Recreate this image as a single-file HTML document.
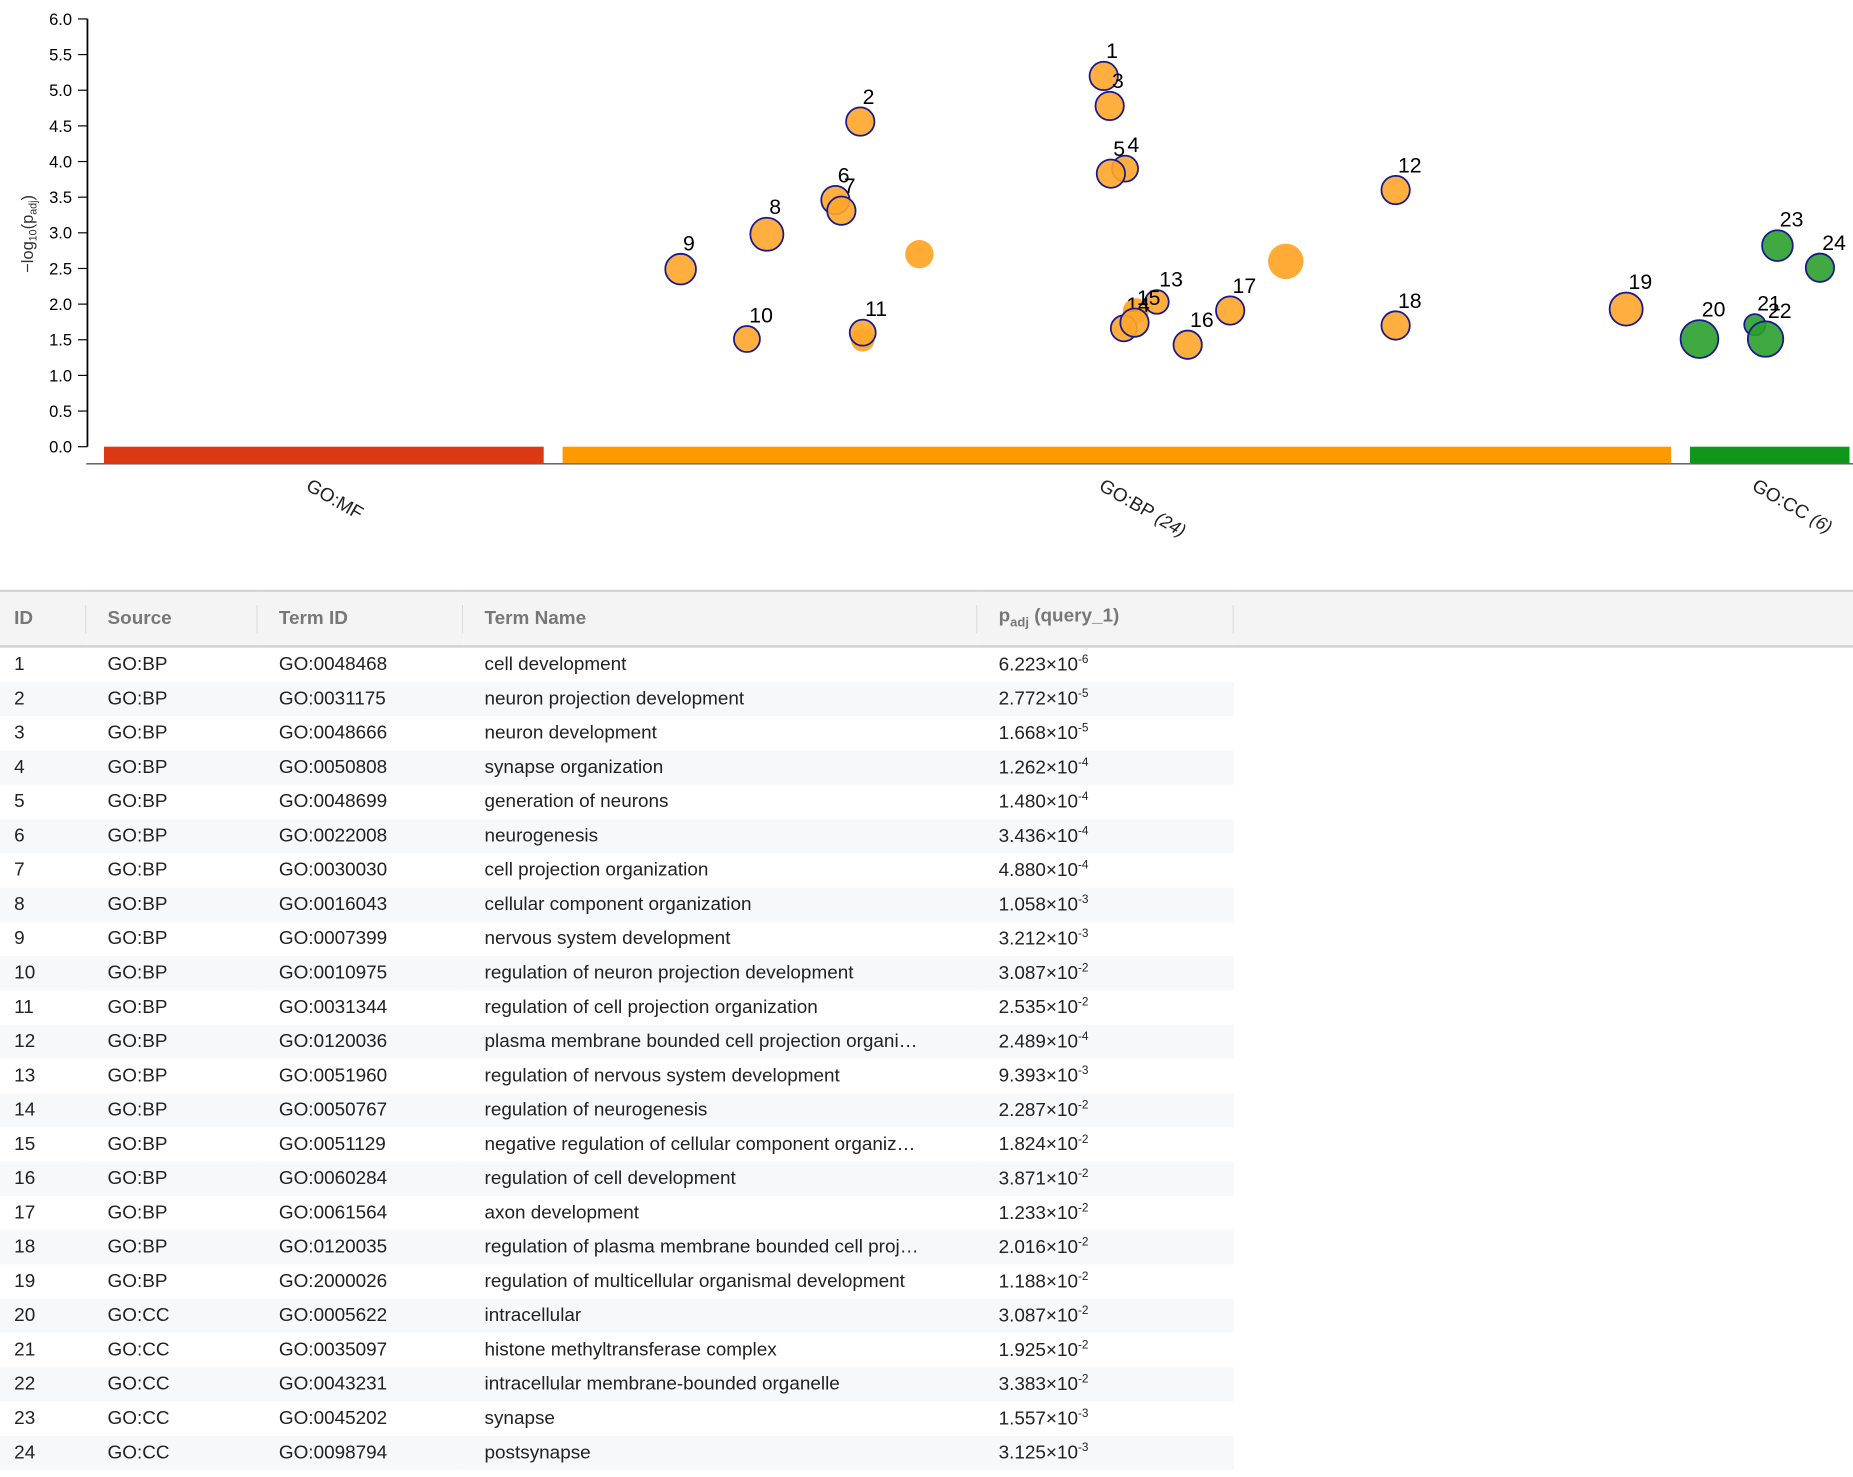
<!DOCTYPE html>
<html><head><meta charset="utf-8"><style>
html,body{margin:0;padding:0;background:#fff;width:1853px;height:1477px;overflow:hidden}
#wrap{width:1568px;height:1250px;transform:scale(1.181760);transform-origin:0 0;position:relative;font-family:"Liberation Sans",sans-serif}
svg text{font-family:"Liberation Sans",sans-serif}
table{position:absolute;left:0;top:499px;border-collapse:collapse;width:1568px;font-size:16px;color:#222}
th{background:#f4f4f4;color:#777;font-weight:bold;text-align:left;height:45px;border-top:2px solid #d4d4d4;border-bottom:2px solid #d4d4d4;padding:0;position:relative}
td{height:29px;padding:0;white-space:nowrap}
tr.alt td.c{background:#f7f8fa}
.sep{position:absolute;right:0;top:11px;height:24px;border-right:1px solid #ddd}
</style></head><body><div id="wrap">
<svg id="chart" width="1568" height="490" style="position:absolute;left:0;top:0"></svg>
<table>
<thead><tr>
<th style="width:73px;padding-left:12px;box-sizing:border-box">ID<span class="sep"></span></th>
<th style="width:145px;padding-left:18px;box-sizing:border-box">Source<span class="sep"></span></th>
<th style="width:174px;padding-left:18px;box-sizing:border-box">Term ID<span class="sep"></span></th>
<th style="width:435px;padding-left:18px;box-sizing:border-box">Term Name<span class="sep"></span></th>
<th style="width:217px;padding-left:18px;box-sizing:border-box">p<sub style="font-size:11px">adj</sub> (query_1)<span class="sep"></span></th>
<th style="background:#f4f4f4"></th>
</tr></thead><tbody id="tb"></tbody></table>
</div>
<script>
const ids=[1,2,3,4,5,6,7,8,9,10,11,12,13,14,15,16,17,18,19,20,21,22,23,24];
const sources=["GO:BP","GO:BP","GO:BP","GO:BP","GO:BP","GO:BP","GO:BP","GO:BP","GO:BP","GO:BP","GO:BP","GO:BP","GO:BP","GO:BP","GO:BP","GO:BP","GO:BP","GO:BP","GO:BP","GO:CC","GO:CC","GO:CC","GO:CC","GO:CC"];
const termIds=["GO:0048468","GO:0031175","GO:0048666","GO:0050808","GO:0048699","GO:0022008","GO:0030030","GO:0016043","GO:0007399","GO:0010975","GO:0031344","GO:0120036","GO:0051960","GO:0050767","GO:0051129","GO:0060284","GO:0061564","GO:0120035","GO:2000026","GO:0005622","GO:0035097","GO:0043231","GO:0045202","GO:0098794"];
const termNames=["cell development","neuron projection development","neuron development","synapse organization","generation of neurons","neurogenesis","cell projection organization","cellular component organization","nervous system development","regulation of neuron projection development","regulation of cell projection organization","plasma membrane bounded cell projection organi…","regulation of nervous system development","regulation of neurogenesis","negative regulation of cellular component organiz…","regulation of cell development","axon development","regulation of plasma membrane bounded cell proj…","regulation of multicellular organismal development","intracellular","histone methyltransferase complex","intracellular membrane-bounded organelle","synapse","postsynapse"];
const pMant=["6.223","2.772","1.668","1.262","1.480","3.436","4.880","1.058","3.212","3.087","2.535","2.489","9.393","2.287","1.824","3.871","1.233","2.016","1.188","3.087","1.925","3.383","1.557","3.125"];
const pExp=[-6,-5,-5,-4,-4,-4,-4,-3,-3,-2,-2,-4,-3,-2,-2,-2,-2,-2,-2,-2,-2,-2,-3,-3];
// plotted points: position along term axis (0-1000), -log10 padj, size
const ptPos=[571.6,432.4,575,583.8,575.7,418.2,421.6,379,329.7,367.6,433.8,738.5,602,583.1,589.2,619.6,643.9,738.5,870.3,912.2,943.9,950,956.8,981.1];
const ptVal=[5.2,4.56,4.78,3.9,3.83,3.46,3.31,2.98,2.49,1.51,1.6,3.6,2.03,1.66,1.74,1.43,1.91,1.7,1.93,1.51,1.71,1.51,2.82,2.51];
const ptSize=[12,12,12,11,12,12,12,14,13,11,11,12,10,11,12,12,12,12,14,16,9,15,13,12];
const extraPos=[466.2,675.7,433.8,589.9];
const extraVal=[2.7,2.6,1.5,1.9];
const extraSize=[12,15,10,11];
const yTicks=[0,0.5,1,1.5,2,2.5,3,3.5,4,4.5,5,5.5,6];
const groups=["GO:MF","GO:BP (24)","GO:CC (6)"];
const groupStart=[0,262.2,906.8];
const groupEnd=[251.4,896,998];
const groupColors=["#dc3912","#ff9900","#109618"];
const NS="http://www.w3.org/2000/svg";
const svg=document.getElementById('chart');
const y=v=>378-v*60.33;
const xp=p=>88+p*1.48;
function mk(t,a){const e=document.createElementNS(NS,t);for(const k in a)e.setAttribute(k,a[k]);svg.appendChild(e);return e;}
let ax=mk('line',{x1:74,y1:16,x2:74,y2:378,stroke:'#000','stroke-width':1.5});


yTicks.forEach(v=>{
 let t=mk('line',{x1:66,x2:74,y1:y(v),y2:y(v),stroke:'#000'});
 
 
 let l=mk('text',{x:61,y:y(v)+5,'text-anchor':'end','font-size':14});
 l.textContent=v.toFixed(1);
 
 
});
let yt=mk('text',{transform:'translate(28,198) rotate(-90)','text-anchor':'middle','font-size':14,fill:'#333'});
yt.innerHTML='−log<tspan font-size="9" dy="3">10</tspan><tspan dy="-3">(p</tspan><tspan font-size="9" dy="3">adj</tspan><tspan dy="-3">)</tspan>';


let bl=mk('line',{x1:73,x2:1568,y1:392.5,y2:392.5,stroke:'#555','stroke-width':1.2});


groups.forEach((g,i)=>{
 let r=mk('rect',{x:xp(groupStart[i]),y:378,width:xp(groupEnd[i])-xp(groupStart[i]),height:14,fill:groupColors[i]});
 
 
 const cx=(xp(groupStart[i])+xp(groupEnd[i]))/2;
 let t=mk('text',{transform:`translate(${cx-16},414) rotate(30)`,'font-size':16,fill:'#222'});
 const parts=g.split(' ');
 t.innerHTML=parts[0]+(parts[1]?' <tspan font-style="italic" font-size="15">'+parts[1]+'</tspan>':'');
 
 
});
extraVal.forEach((v,i)=>{
 let c=mk('circle',{cx:xp(extraPos[i]),cy:y(v),r:extraSize[i],fill:'#ffa62b',opacity:0.95});
 
 
});
ptVal.forEach((v,i)=>{
 const col=sources[i]==='GO:CC'?'#2ca02c':'#ffa62b';
 const cx=xp(ptPos[i]),cy=y(v);
 let c=mk('circle',{cx:cx,cy:cy,r:ptSize[i],fill:col,'fill-opacity':0.9,stroke:'#1a1a8c','stroke-width':1.5});
 
 
 let t=mk('text',{x:cx+2,y:cy-ptSize[i]-3,'font-size':18,fill:'#000'});
 t.textContent=ids[i];
 
 
});
const tb=document.getElementById('tb');
ids.forEach((id,i)=>{
 const tr=document.createElement('tr');
 
 
 if(i%2===1)tr.className='alt';
 tr.innerHTML=`<td class="c" style="padding-left:12px">${id}</td><td class="c" style="padding-left:18px">${sources[i]}</td><td class="c" style="padding-left:18px">${termIds[i]}</td><td class="c" style="padding-left:18px">${termNames[i]}</td><td class="c" style="padding-left:18px">${pMant[i]}×10<sup style="font-size:10px">${pExp[i]}</sup></td><td></td>`;
 tb.appendChild(tr);
});
</script></body></html>
